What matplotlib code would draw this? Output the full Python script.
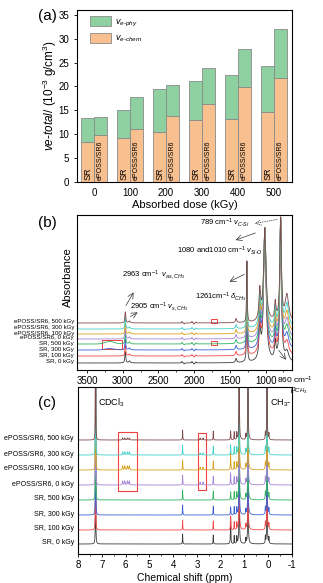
import numpy as np
import matplotlib
matplotlib.use('Agg')
import matplotlib.pyplot as plt
from matplotlib.patches import Patch, Rectangle

plt.rcParams['font.family'] = ['Liberation Sans', 'DejaVu Sans']
plt.rcParams['mathtext.fontset'] = 'custom'
plt.rcParams['mathtext.rm'] = 'Liberation Sans'
plt.rcParams['mathtext.it'] = 'Liberation Sans:italic'
plt.rcParams['mathtext.bf'] = 'Liberation Sans:bold'
plt.rcParams['axes.unicode_minus'] = False

# ---------------- data: panel (a) ----------------
doses = ['0', '100', '200', '300', '400', '500']
sr_total = [13.5, 15.0, 19.4, 21.2, 22.3, 24.2]
sr_chem = [8.4, 9.2, 10.5, 13.0, 13.1, 14.7]
ep_total = [13.7, 17.7, 20.2, 23.8, 27.9, 32.1]
ep_chem = [9.9, 11.1, 13.8, 16.3, 19.9, 21.8]

# ---------------- data: panels (b), (c) ----------------
series_labels = ['SR, 0 kGy', 'SR, 100 kGy', 'SR, 300 kGy', 'SR, 500 kGy',
                 'ePOSS/SR6, 0 kGy', 'ePOSS/SR6, 100 kGy', 'ePOSS/SR6, 300 kGy',
                 'ePOSS/SR6, 500 kGy']
series_colors = ['#3c3c3c', '#f24848', '#3a62d6', '#2fb35f', '#a582d6',
                 '#d8a21c', '#3fd2cb', '#7e4a4a']

# FTIR
ftir_offsets = [7, 14, 20, 26, 31, 36, 41, 47]
ftir_big_pos = [1261, 1010, 789]
ftir_big_hwhm = [5, 20, 13]
ftir_big_top = [108, 142, 152]
ftir_small_pos = [2963, 2905, 1412, 1080, 864]
ftir_small_hwhm = [7, 12, 10, 14, 12]
ftir_small_rel = [11, 2, 4, 30, 18]
ftir_700_rel = [10, 13, 15, 17, 19, 21, 24, 27]
ftir_noise_pos = [2170, 2140, 2030, 2000, 1975]
ftir_noise_rel = [1.5, -1.0, 1.5, -1.2, 1.0]
ftir_oh_rel = [0, 0, 1.5, 2.5, 0, 0, 0, 0]

# 1H NMR
nmr_offsets = [10, 24, 39, 54, 69, 84, 99, 114]
nmr_tall_pos = [7.26, 1.22, 0.85, 0.05]
nmr_base_pos = [1.22, 0.85, 0.05]
nmr_base_rel = [6, 6, 4]
nmr_small_pos = [3.60, 2.31, 1.43, 1.32, 0.94, 0.12, -0.03]
nmr_small_rel = [10, 9, 8, 7, 5, 7, 6]
nmr_158_rel = [27, 14, 8, 8, 12, 16, 10, 9]
nmr_vinyl_pos = [6.12, 6.03, 5.92, 5.84]
nmr_vinyl_rel = [0, 0, 0, 0, 4, 4, 3, 2]
nmr_epoxy_pos = [2.86, 2.74]
nmr_epoxy_rel = [0, 0, 0, 0, 3, 3, 2, 2]


def lor(x, x0, w, h):
    return h * w ** 2 / ((x - x0) ** 2 + w ** 2)


W, H = 323, 583
fig = plt.figure(figsize=(W / 100, H / 100), dpi=100)


def fx(px):
    return px / W


def fy(py):
    return 1 - py / H


def box(l, t, r, b):
    return [fx(l), fy(b), fx(r) - fx(l), fy(t) - fy(b)]


green = '#8fd0a0'
orange = '#f9c08f'
edge = '#8a8a8a'

# ================= panel (a) =================
ax = fig.add_axes(box(77, 10, 292, 182))
x = np.arange(len(doses))
bw = 0.35
sr_phy = np.array(sr_total) - np.array(sr_chem)
ep_phy = np.array(ep_total) - np.array(ep_chem)
ax.bar(x - bw / 2, sr_chem, bw, color=orange, edgecolor=edge, linewidth=0.6)
ax.bar(x - bw / 2, sr_phy, bw, bottom=sr_chem, color=green, edgecolor=edge, linewidth=0.6)
ax.bar(x + bw / 2, ep_chem, bw, color=orange, edgecolor=edge, linewidth=0.6)
ax.bar(x + bw / 2, ep_phy, bw, bottom=ep_chem, color=green, edgecolor=edge, linewidth=0.6)
for xi in x:
    ax.text(xi - bw / 2, 0.4, 'SR', rotation=90, ha='center', va='bottom', fontsize=6.5)
    ax.text(xi + bw / 2, 0.4, 'ePOSS/SR6', rotation=90, ha='center', va='bottom', fontsize=5)
ax.set_xlim(-0.47, 5.5)
ax.set_ylim(0, 36)
ax.set_yticks(range(0, 36, 5))
ax.set_xticks(x)
ax.set_xticklabels(doses)
ax.tick_params(labelsize=7, length=2, width=0.6)
ax.tick_params(axis='x', length=0, pad=4)
ax.set_xlabel('Absorbed dose (kGy)', fontsize=8, labelpad=2)
ax.set_ylabel(r'$ve$-$total$/ (10$^{-3}$ g/cm$^{3}$)', fontsize=8.5, labelpad=0)
for s in ax.spines.values():
    s.set_linewidth(0.8)
handles = [Patch(facecolor=green, edgecolor=edge, linewidth=0.6),
           Patch(facecolor=orange, edgecolor=edge, linewidth=0.6)]
ax.legend(handles, [r'$v_{e\text{-}phy}$', r'$v_{e\text{-}chem}$'], loc='upper left',
          frameon=False, fontsize=6.5, handlelength=2.4, handleheight=1.3,
          handletextpad=0.4, borderaxespad=0.3, labelspacing=0.45,
          bbox_to_anchor=(0.03, 1.0))
fig.text(fx(38), fy(16), '(a)', fontsize=11, va='center')

# ================= panel (b) =================
bx = fig.add_axes(box(77, 215, 292, 370))
wn = np.linspace(620, 3660, 6000)
for i in range(8):
    off = ftir_offsets[i]
    y = np.full_like(wn, float(off))
    for p, w, h in zip(ftir_small_pos, ftir_small_hwhm, ftir_small_rel):
        y += lor(wn, p, w, h)
    y += lor(wn, 700, 30, ftir_700_rel[i])
    for p, h in zip(ftir_noise_pos, ftir_noise_rel):
        y += lor(wn, p, 5, h)
    y += ftir_oh_rel[i] * np.exp(-((wn - 3180) / 90) ** 2)
    base = y.copy()
    for p, w, t in zip(ftir_big_pos, ftir_big_hwhm, ftir_big_top):
        hgt = t - np.interp(p, wn, base)
        y += lor(wn, p, w, hgt)
    bx.plot(wn, y, color=series_colors[i], lw=0.6)
    fig.text(fx(74), fy(370 - off - 1), series_labels[i], fontsize=4.4, ha='right', va='center')
bx.set_xlim(3640, 630)
bx.set_ylim(0, 155)
bx.set_yticks([])
bx.set_xticks([3500, 3000, 2500, 2000, 1500, 1000])
bx.set_xticks(np.arange(750, 3640, 250), minor=True)
bx.tick_params(labelsize=7, length=2.5, width=0.6, pad=2)
bx.tick_params(which='minor', length=1.5, width=0.5)
for s in bx.spines.values():
    s.set_linewidth(0.8)
bx.set_xlabel('Wavenumber (cm$^{-1}$)', fontsize=7.5, labelpad=1)
fig.text(fx(68), fy(277), 'Absorbance', rotation=90, fontsize=8, ha='center', va='center')
fig.text(fx(38), fy(223), '(b)', fontsize=11, va='center')

red = '#f04040'
for (x0, x1, y0, y1) in [(3290, 3010, 21, 30), (1764, 1680, 25, 29), (1764, 1680, 47, 51)]:
    bx.add_patch(Rectangle((x1, y0), x0 - x1, y1 - y0, fill=False, ec=red, lw=0.7))

afs = 5.5
bx.text(1918, 147, r'789 cm$^{-1}$ $v_{C\text{-}Si}$', fontsize=afs, va='center')
bx.annotate('', xy=(1190, 146), xytext=(800, 151),
            arrowprops=dict(arrowstyle='->', lw=0.5, ls=':', color='#333333'))
bx.text(2240, 119, r'1080 and1010 cm$^{-1}$ $v_{Si\text{-}O}$', fontsize=afs, va='center')
bx.annotate('', xy=(1456, 129), xytext=(1106, 138),
            arrowprops=dict(arrowstyle='->', lw=0.5, color='#333333'))
bx.text(1988, 73, r'1261cm$^{-1}$ $\delta_{CH_3}$', fontsize=afs, va='center')
bx.annotate('', xy=(1540, 87), xytext=(1262, 97),
            arrowprops=dict(arrowstyle='->', lw=0.5, color='#333333'))
bx.text(3010, 95, r'2963 cm$^{-1}$  $v_{as,CH_3}$', fontsize=afs, va='center')
bx.annotate('', xy=(2828, 80), xytext=(2975, 62),
            arrowprops=dict(arrowstyle='->', lw=0.5, color='#333333'))
bx.text(2898, 63, r'2905 cm$^{-1}$ $v_{s,CH_3}$', fontsize=afs, va='center')
bx.annotate('', xy=(2758, 59), xytext=(2926, 52),
            arrowprops=dict(arrowstyle='->', lw=0.5, color='#333333'))
bx.annotate('', xy=(690, 8), xytext=(840, 22),
            arrowprops=dict(arrowstyle='->', lw=0.5, color='#333333'), annotation_clip=False)
fig.text(fx(277), fy(380), r'860 cm$^{-1}$', fontsize=6, va='center')
fig.text(fx(290), fy(386), r'$\rho_{CH_3}$', fontsize=6, va='top')

# ================= panel (c) =================
cx = fig.add_axes(box(78, 387, 292, 554))
ppm = np.linspace(-1.05, 8.05, 12000)
for i in range(8):
    off = nmr_offsets[i]
    y = np.full_like(ppm, float(off))
    for p in nmr_tall_pos:
        y += lor(ppm, p, 0.003, 600)
    for p, h in zip(nmr_base_pos, nmr_base_rel):
        y += lor(ppm, p, 0.04, h)
    for p, h in zip(nmr_small_pos, nmr_small_rel):
        y += lor(ppm, p, 0.008, h)
    y += lor(ppm, 1.58, 0.01, nmr_158_rel[i])
    for p in nmr_vinyl_pos:
        y += lor(ppm, p, 0.015, nmr_vinyl_rel[i])
    for p in nmr_epoxy_pos:
        y += lor(ppm, p, 0.012, nmr_epoxy_rel[i])
    cx.plot(ppm, y, color=series_colors[i], lw=0.6)
    fig.text(fx(74), fy(554 - off - 1), series_labels[i], fontsize=5, ha='right', va='center')
cx.set_xlim(8, -1)
cx.set_ylim(0, 167)
cx.set_yticks([])
cx.set_xticks(range(8, -2, -1))
cx.set_xticks(np.arange(-0.5, 8, 1), minor=True)
cx.tick_params(labelsize=7, length=2.5, width=0.6, pad=2)
cx.tick_params(which='minor', length=1.5, width=0.5)
for s in cx.spines.values():
    s.set_linewidth(0.8)
cx.set_xlabel('Chemical shift (ppm)', fontsize=7.5, labelpad=2)
for (x0, x1, y0, y1) in [(6.32, 5.52, 63, 122), (2.95, 2.62, 64, 121)]:
    cx.add_patch(Rectangle((x1, y0), x0 - x1, y1 - y0, fill=False, ec=red, lw=0.8))
cx.text(7.16, 151, r'CDCl$_3$', fontsize=6.5, va='center')
cx.text(-0.07, 151, r'CH$_3$-', fontsize=6.5, va='center')
fig.text(fx(38), fy(403), '(c)', fontsize=11, va='center')

fig.savefig('out.png', dpi=100)
